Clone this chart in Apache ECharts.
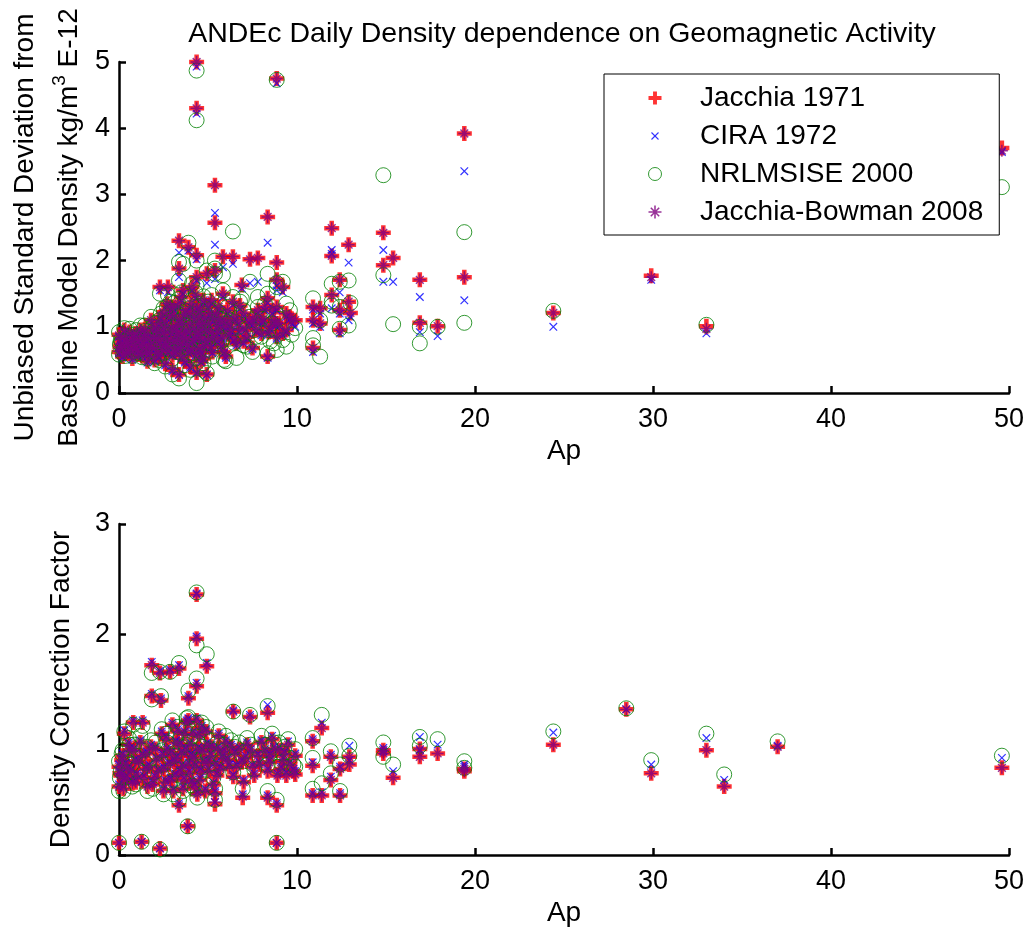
<!DOCTYPE html>
<html><head><meta charset="utf-8">
<script src="https://cdn.jsdelivr.net/npm/echarts@6/dist/echarts.min.js"></script>
<style>html,body{margin:0;padding:0;background:#fff}#c{width:1030px;height:932px}</style>
</head><body><div id="c"></div>
<script>
const titleText = 'ANDEc Daily Density dependence on Geomagnetic Activity';
const seriesNames = ['Jacchia 1971', 'CIRA 1972', 'NRLMSISE 2000', 'Jacchia-Bowman 2008'];
const xTicks = [0, 10, 20, 30, 40, 50];
const topYTicks = [0, 1, 2, 3, 4, 5];
const botYTicks = [0, 1, 2, 3];

// ---- top panel: unbiased standard deviation (kg/m^3 E-12) ----
const topAp = [0.0,0.0,0.1,0.2,0.25,0.3,0.4,0.5,0.5,0.6,0.75,0.8,0.9,1.0,1.1,1.2,1.25,1.4,1.5,1.5,1.6,1.75,1.8,1.9,2.0,2.0,2.1,2.2,2.25,2.25,2.3,2.4,2.5,2.5,2.6,2.6,2.6,2.75,2.75,2.9,2.9,3.0,3.0,3.0,3.1,3.1,3.2,3.25,3.3,3.37,3.37,3.37,3.4,3.5,3.5,3.5,3.6,3.6,3.7,3.75,3.75,3.8,3.9,3.9,4.0,4.0,4.0,4.1,4.1,4.2,4.25,4.3,4.36,4.36,4.36,4.36,4.36,4.4,4.5,4.5,4.5,4.6,4.6,4.7,4.75,4.75,4.8,4.93,4.93,5.0,5.0,5.1,5.2,5.25,5.3,5.39,5.39,5.39,5.5,5.5,5.6,5.7,5.75,5.84,5.84,5.9,6.0,6.0,6.1,6.2,6.3,6.4,6.4,6.5,6.6,6.75,6.8,6.9,7.0,7.1,7.2,7.36,7.5,7.5,7.6,7.8,7.8,8.0,8.1,8.2,8.35,8.35,8.35,8.5,8.6,8.7,8.86,8.86,8.86,8.86,8.86,9.0,9.2,9.4,9.4,9.7,9.9,10.9,10.9,10.9,11.3,11.3,11.95,11.95,11.95,12.4,12.4,12.4,12.9,12.9,13.0,14.85,14.85,15.4,16.9,16.9,17.9,19.4,19.4,24.4,29.9,33.0,49.6,
  0.05,0.15,0.35,0.45,0.65,0.7,0.85,0.95,1.05,1.15,1.3,1.35,1.45,1.55,1.65,1.7,1.85,1.95,2.05,2.15,2.3,2.35,2.45,2.55,2.65,2.7,2.8,2.85,2.95,3.05,3.15,3.2,3.3,3.35,3.45,3.55,3.65,3.7,3.85,3.95,4.05,4.15,4.2,4.3,4.4,4.45,4.55,4.65,4.7,4.85,4.9,5.05,5.15,5.2,5.3,5.45,5.55,5.65,5.8,5.95,6.25,6.45,6.7,7.0,7.3,7.7,8.0,8.4,8.8,9.2,9.6];
const topJ71 = [0.88,0.62,0.75,0.55,0.68,0.95,0.82,0.60,0.72,0.92,0.52,0.85,0.66,0.78,0.58,0.95,0.70,0.85,0.62,0.88,0.48,0.74,1.10,0.95,0.66,0.50,0.82,0.92,1.05,0.55,1.60,0.72,0.90,1.22,0.44,1.08,0.75,0.62,1.60,0.80,1.30,1.00,0.35,0.58,1.30,0.78,0.68,0.88,1.02,2.30,1.88,0.28,1.12,0.55,1.45,0.90,0.75,1.55,0.48,0.95,1.25,0.82,2.20,0.62,1.05,0.40,1.22,1.60,0.65,0.98,0.82,1.48,5.00,4.30,2.08,1.75,0.31,1.30,0.68,1.15,0.85,0.95,0.48,1.05,0.52,1.40,0.72,0.28,1.80,0.80,1.32,1.20,0.92,0.62,1.12,3.14,2.57,1.85,1.00,0.80,1.30,1.05,0.72,2.06,1.50,0.62,1.10,0.55,1.25,0.88,0.95,2.06,1.38,1.15,0.75,0.95,1.32,1.63,1.20,0.98,0.85,2.02,1.05,0.68,1.15,2.04,1.25,0.90,1.12,1.30,2.66,1.43,0.55,1.00,1.25,1.10,4.75,1.97,1.71,1.30,0.85,1.05,1.60,0.95,1.20,1.08,1.10,1.30,1.10,0.68,1.28,1.05,2.49,2.07,1.48,1.71,1.25,0.95,2.24,1.38,1.21,2.42,1.93,2.04,1.71,1.06,1.01,3.92,1.75,1.21,1.77,1.01,3.70,
  0.70,0.82,0.60,0.76,0.66,0.80,0.72,0.90,0.64,0.80,0.58,0.75,0.96,0.70,0.82,0.60,0.68,0.84,1.00,0.60,0.78,1.15,0.64,0.98,0.84,1.35,0.70,1.15,0.92,1.18,0.62,0.95,0.80,1.35,0.68,1.05,0.85,1.18,0.72,0.92,1.35,0.78,1.15,0.58,0.90,1.05,1.25,0.62,0.82,1.15,0.95,1.05,0.70,1.40,0.85,1.20,0.92,1.12,0.85,1.00,1.05,0.82,1.08,0.78,1.10,0.95,1.08,0.92,1.05,0.90,1.15];
const topCIRA = [0.85,0.60,0.72,0.53,0.66,0.92,0.79,0.58,0.70,0.89,0.50,0.82,0.64,0.75,0.56,0.91,0.68,0.82,0.60,0.85,0.46,0.72,1.06,0.92,0.64,0.48,0.80,0.89,1.01,0.53,1.55,0.70,0.87,1.18,0.42,1.04,0.72,0.60,1.52,0.77,1.26,0.97,0.33,0.56,1.25,0.75,0.66,0.85,0.98,2.12,1.75,0.27,1.08,0.53,1.40,0.87,0.72,1.50,0.46,0.92,1.21,0.79,2.15,0.60,1.01,0.38,1.18,1.55,0.63,0.95,0.79,1.43,4.93,4.22,2.02,1.70,0.30,1.26,0.66,1.11,0.82,0.92,0.46,1.01,0.50,1.36,0.70,0.27,1.66,0.77,1.28,1.16,0.89,0.60,1.08,2.72,2.24,1.72,0.97,0.77,1.26,1.01,0.70,1.90,1.45,0.60,1.06,0.53,1.20,0.85,0.92,1.95,1.33,1.11,0.72,0.92,1.27,1.58,1.16,0.95,0.82,1.66,1.02,0.66,1.10,1.68,1.21,0.87,1.08,1.25,2.27,1.36,0.53,0.96,1.20,1.06,4.68,1.62,1.55,1.25,0.82,1.01,1.52,0.92,1.15,1.04,1.00,1.26,1.05,0.62,1.20,1.00,2.16,2.10,1.28,1.52,1.20,0.90,1.97,1.10,1.15,2.16,1.68,1.68,1.45,0.92,0.86,3.35,1.40,1.00,1.71,0.90,3.64,
  0.68,0.79,0.58,0.73,0.64,0.77,0.70,0.87,0.62,0.77,0.56,0.72,0.93,0.68,0.79,0.58,0.66,0.81,0.97,0.58,0.75,1.11,0.62,0.95,0.81,1.31,0.68,1.11,0.89,1.14,0.60,0.92,0.77,1.30,0.66,1.01,0.82,1.14,0.70,0.89,1.30,0.75,1.11,0.56,0.87,1.01,1.21,0.60,0.79,1.11,0.92,1.01,0.68,1.35,0.82,1.16,0.89,1.08,0.82,0.97,1.01,0.79,1.04,0.75,1.06,0.92,1.04,0.89,1.01,0.87,1.11];
const topNRL = [0.92,0.58,0.80,0.60,0.65,0.98,0.86,0.66,0.68,0.97,0.56,0.88,0.62,0.83,0.64,1.02,0.74,0.90,0.58,0.94,0.52,0.80,1.15,1.00,0.70,0.45,0.78,0.96,1.10,0.50,1.50,0.76,0.95,1.28,0.40,1.14,0.70,0.66,1.48,0.85,1.38,1.06,0.28,0.52,1.36,0.82,0.62,0.93,1.08,1.98,1.70,0.22,1.18,0.60,1.52,0.94,0.70,1.95,0.42,1.02,1.20,0.86,2.27,0.58,1.10,0.35,1.28,1.65,0.60,1.04,0.88,1.52,4.87,4.12,2.00,1.62,0.15,1.35,0.64,1.08,0.80,1.00,0.40,1.12,0.45,1.46,0.76,0.30,1.85,0.85,1.38,1.25,0.98,0.55,1.05,2.00,1.88,1.80,1.05,0.72,1.22,1.12,0.78,1.78,1.55,0.50,1.15,0.48,1.30,0.82,0.98,2.44,1.45,1.08,0.53,1.00,1.38,1.42,1.25,0.88,0.70,1.68,1.10,0.62,0.95,1.45,1.30,0.85,1.05,1.35,1.80,1.50,0.60,0.78,1.05,0.75,4.73,1.60,1.66,1.20,0.65,1.12,1.68,0.70,1.35,0.88,0.98,1.43,0.83,0.72,0.55,1.10,1.65,1.32,1.38,1.68,1.30,0.97,1.70,1.02,1.36,3.29,1.78,1.04,0.75,1.00,1.00,2.43,1.06,1.24,null,1.03,3.11,
  0.74,0.78,0.56,0.80,0.70,0.84,0.66,0.95,0.60,0.85,0.54,0.79,1.02,0.74,0.78,0.64,0.62,0.89,1.06,0.55,0.82,1.20,0.60,1.04,0.88,1.30,0.74,1.22,0.86,1.24,0.66,1.00,0.75,1.42,0.72,1.10,0.90,1.24,0.68,0.98,1.40,0.82,1.20,0.52,0.95,1.00,1.32,0.56,0.88,1.20,0.90,1.10,0.64,1.48,0.90,1.25,0.86,1.18,0.80,1.05,1.10,0.76,1.14,0.72,1.15,0.85,1.12,0.95,0.95,0.80,1.25];
const topJB08 = [0.87,0.63,0.74,0.56,0.69,0.95,0.81,0.61,0.73,0.91,0.53,0.85,0.67,0.78,0.59,0.95,0.71,0.85,0.62,0.88,0.49,0.74,1.10,0.95,0.67,0.50,0.82,0.92,1.05,0.56,1.60,0.72,0.90,1.22,0.45,1.08,0.75,0.63,1.60,0.80,1.30,1.00,0.36,0.58,1.30,0.78,0.68,0.88,1.02,2.30,1.88,0.28,1.12,0.56,1.45,0.90,0.75,1.55,0.48,0.95,1.25,0.82,2.20,0.62,1.05,0.41,1.22,1.60,0.66,0.98,0.82,1.48,5.00,4.30,2.08,1.75,0.31,1.30,0.68,1.15,0.85,0.95,0.48,1.05,0.53,1.40,0.72,0.28,1.80,0.80,1.32,1.20,0.92,0.62,1.12,3.14,2.57,1.85,1.00,0.80,1.30,1.05,0.72,2.06,1.50,0.62,1.10,0.56,1.25,0.88,0.95,2.06,1.38,1.15,0.75,0.95,1.32,1.63,1.20,0.98,0.85,2.02,1.05,0.68,1.15,2.04,1.25,0.90,1.12,1.30,2.66,1.43,0.55,1.00,1.25,1.10,4.75,1.97,1.71,1.30,0.85,1.05,1.60,0.95,1.20,1.08,1.10,1.30,1.10,0.68,1.28,1.05,2.49,2.07,1.48,1.71,1.25,0.95,2.24,1.38,1.21,2.42,1.93,2.04,1.71,1.06,1.01,3.92,1.75,1.21,1.75,0.97,3.66,
  0.70,0.82,0.60,0.76,0.66,0.80,0.72,0.90,0.64,0.80,0.58,0.75,0.96,0.70,0.82,0.60,0.68,0.84,1.00,0.60,0.78,1.15,0.64,0.98,0.84,1.35,0.70,1.15,0.92,1.18,0.62,0.95,0.80,1.35,0.68,1.05,0.85,1.18,0.72,0.92,1.35,0.78,1.15,0.58,0.90,1.05,1.25,0.62,0.82,1.15,0.95,1.05,0.70,1.40,0.85,1.20,0.92,1.12,0.85,1.00,1.05,0.82,1.08,0.78,1.10,0.95,1.08,0.92,1.05,0.90,1.15];

// ---- bottom panel: density correction factor ----
const botAp = [0.0,0.0,0.0,0.1,0.2,0.3,0.3,0.5,0.6,0.75,0.8,0.9,1.0,1.27,1.33,1.3,1.5,1.6,1.84,1.84,1.8,2.0,2.1,2.3,2.3,2.36,2.4,2.5,2.5,2.7,2.87,2.9,3.0,3.1,3.2,3.37,3.37,3.4,3.5,3.6,3.7,3.86,3.9,3.9,3.9,4.0,4.1,4.2,4.36,4.36,4.36,4.36,4.4,4.5,4.6,4.7,4.93,4.9,5.0,5.2,5.39,5.4,5.5,5.6,5.8,6.0,6.2,6.42,6.42,6.5,6.9,6.95,7.0,7.36,7.2,7.5,7.8,8.0,8.35,8.35,8.35,8.5,8.6,8.86,8.86,8.9,9.0,9.2,9.4,9.5,9.9,9.9,10.88,10.88,10.88,11.39,11.39,11.9,11.9,12.42,12.42,12.94,12.94,14.85,14.85,15.4,16.9,16.9,17.9,19.4,19.4,24.4,28.5,29.9,33.0,34.0,37.0,49.6,
  0.05,0.15,0.25,0.4,0.45,0.55,0.7,0.85,0.95,1.1,1.2,1.4,1.55,1.7,1.9,2.05,2.2,2.45,2.6,2.65,2.8,2.95,3.05,3.15,3.25,3.3,3.45,3.55,3.65,3.75,3.8,3.95,4.05,4.15,4.25,4.3,4.45,4.55,4.65,4.75,4.85,4.95,5.05,5.15,5.3,5.45,5.55,5.7,5.9,6.1,6.3,6.6,6.75,7.1,7.4,7.6,7.9,8.2,8.45,8.7,9.1,9.3,9.6,9.8];
const botJ71 = [0.11,0.80,0.62,0.72,0.90,1.10,0.68,0.78,0.95,0.65,1.20,0.85,0.72,0.12,1.20,0.90,0.78,0.62,1.72,1.44,0.98,0.70,0.86,0.06,1.65,1.40,1.10,0.58,0.78,0.95,1.66,0.68,1.18,0.85,1.02,1.69,0.45,0.75,0.92,0.60,1.10,0.26,1.42,1.22,0.82,1.00,0.66,0.88,2.36,1.96,1.53,1.22,0.55,1.08,0.76,0.94,1.71,1.12,0.84,0.98,0.46,0.56,0.72,1.08,0.88,1.02,0.80,1.30,0.71,0.92,0.84,0.52,0.66,1.25,1.00,0.80,0.90,1.02,1.29,0.76,0.52,0.90,1.05,0.45,0.11,0.72,0.95,0.85,0.72,1.00,0.73,0.90,1.03,0.81,0.54,1.15,0.54,0.89,0.68,0.78,0.54,0.89,0.82,0.95,0.92,0.70,0.96,0.89,0.92,0.76,0.78,1.00,1.32,0.74,0.95,0.62,0.98,0.79,
  0.74,0.86,0.60,0.82,0.70,1.00,0.76,0.95,0.66,0.84,1.02,0.70,0.92,0.80,0.64,0.96,0.76,0.90,0.66,1.05,0.82,0.92,0.58,0.72,0.88,1.12,1.00,0.80,0.68,0.95,1.20,0.74,0.90,1.10,0.62,0.80,0.96,0.68,1.15,0.84,0.58,1.00,0.76,0.90,0.64,0.82,0.96,0.78,0.94,0.86,0.98,0.80,0.96,0.88,0.94,0.72,0.82,0.94,0.84,0.96,0.78,0.92,0.82,0.76];
const botCIRA = [0.11,0.82,0.64,0.74,0.92,1.13,0.70,0.80,0.97,0.67,1.22,0.87,0.74,0.12,1.22,0.92,0.80,0.64,1.75,1.46,1.00,0.72,0.88,0.06,1.67,1.42,1.12,0.60,0.80,0.97,1.68,0.70,1.20,0.87,1.04,1.72,0.47,0.77,0.94,0.62,1.12,0.26,1.44,1.24,0.84,1.02,0.68,0.90,2.37,1.98,1.56,1.24,0.57,1.10,0.78,0.96,1.74,1.14,0.86,1.00,0.48,0.58,0.74,1.10,0.90,1.04,0.82,1.31,0.73,0.94,0.86,0.55,0.68,1.27,1.02,0.82,0.92,1.04,1.36,0.78,0.54,0.92,1.08,0.47,0.11,0.74,0.98,0.88,0.75,1.03,0.76,0.92,1.05,0.84,0.56,1.20,0.57,0.91,0.71,0.80,0.56,0.99,0.86,0.97,0.94,0.76,1.07,0.95,1.00,0.82,0.80,1.11,1.32,0.82,1.06,0.68,0.99,0.88,
  0.76,0.88,0.62,0.84,0.72,1.02,0.78,0.97,0.68,0.86,1.04,0.72,0.94,0.82,0.66,0.98,0.78,0.92,0.68,1.07,0.84,0.94,0.60,0.74,0.90,1.14,1.02,0.82,0.70,0.97,1.22,0.76,0.92,1.12,0.64,0.82,0.98,0.70,1.17,0.86,0.60,1.02,0.78,0.92,0.66,0.84,0.98,0.80,0.96,0.88,1.00,0.82,0.98,0.90,0.96,0.74,0.84,0.96,0.86,0.98,0.80,0.94,0.84,0.78];
const botNRL = [0.11,0.85,0.58,0.76,0.95,1.12,0.72,0.84,1.00,0.62,1.18,0.90,0.78,0.12,1.17,0.95,0.83,0.58,1.65,1.41,1.04,0.75,0.92,0.05,1.66,1.44,1.14,0.55,0.82,1.02,1.66,0.66,1.22,0.90,1.08,1.74,0.50,0.72,0.98,0.58,1.15,0.26,1.49,1.25,0.88,1.06,0.63,0.94,2.38,1.90,1.60,1.20,0.52,1.12,0.80,0.98,1.82,1.16,0.90,1.04,0.50,0.60,0.78,1.12,0.94,1.08,0.85,1.30,0.75,0.98,0.90,0.60,0.72,1.27,1.06,0.86,0.96,1.08,1.35,0.82,0.58,0.98,1.10,0.50,0.11,0.80,1.02,0.92,0.80,1.05,0.80,0.96,1.06,0.88,0.60,1.27,0.65,0.94,0.74,0.82,0.58,0.99,0.90,1.02,0.89,0.82,1.07,0.99,1.05,0.85,0.79,1.12,1.33,0.86,1.10,0.73,1.03,0.90,
  0.70,0.92,0.58,0.88,0.75,1.06,0.82,1.00,0.64,0.90,1.08,0.75,0.98,0.86,0.60,1.02,0.82,0.95,0.72,1.10,0.88,0.98,0.55,0.78,0.94,1.16,1.05,0.86,0.66,1.00,1.24,0.80,0.96,1.14,0.60,0.86,1.02,0.74,1.20,0.90,0.64,1.06,0.82,0.96,0.70,0.88,1.02,0.84,1.00,0.92,1.04,0.86,1.02,0.94,1.00,0.78,0.88,1.00,0.90,1.02,0.84,0.98,0.88,0.82];
const botJB08 = [0.11,0.80,0.62,0.72,0.90,1.10,0.68,0.78,0.95,0.65,1.20,0.85,0.72,0.12,1.20,0.90,0.78,0.62,1.72,1.44,0.98,0.70,0.86,0.06,1.65,1.40,1.10,0.58,0.78,0.95,1.66,0.68,1.18,0.85,1.02,1.69,0.45,0.75,0.92,0.60,1.10,0.26,1.42,1.22,0.82,1.00,0.66,0.88,2.36,1.96,1.53,1.22,0.55,1.08,0.76,0.94,1.71,1.12,0.84,0.98,0.48,0.56,0.72,1.08,0.88,1.02,0.80,1.30,0.71,0.92,0.84,0.53,0.66,1.25,1.00,0.80,0.90,1.02,1.29,0.76,0.52,0.90,1.05,0.45,0.11,0.72,0.95,0.85,0.72,1.00,0.73,0.90,1.03,0.81,0.54,1.15,0.54,0.89,0.68,0.78,0.54,0.89,0.82,0.95,0.92,0.70,0.96,0.89,0.92,0.76,0.78,1.00,1.32,0.74,0.95,0.62,0.98,0.79,
  0.74,0.86,0.60,0.82,0.70,1.00,0.76,0.95,0.66,0.84,1.02,0.70,0.92,0.80,0.64,0.96,0.76,0.90,0.66,1.05,0.82,0.92,0.58,0.72,0.88,1.12,1.00,0.80,0.68,0.95,1.20,0.74,0.90,1.10,0.62,0.80,0.96,0.68,1.15,0.84,0.58,1.00,0.76,0.90,0.64,0.82,0.96,0.78,0.94,0.86,0.98,0.80,0.96,0.88,0.94,0.72,0.82,0.94,0.84,0.96,0.78,0.92,0.82,0.76];

const FONT = '"Liberation Sans", Arial, Helvetica, sans-serif';
const PLUS = 'path://M35,0L65,0L65,35L100,35L100,65L65,65L65,100L35,100L35,65L0,65L0,35L35,35Z';
const CROSS = 'path://M0,0L0,0ZM100,100L100,100ZM20,26L26,20L80,74L74,80ZM74,20L80,26L26,80L20,74Z';
const ASTER = 'path://M44,0L56,0L56,44L100,44L100,56L56,56L56,100L44,100L44,56L0,56L0,44L44,44Z' +
  'M21.9,13.5L86.5,78.1L78.1,86.5L13.5,21.9ZM78.1,13.5L86.5,21.9L21.9,86.5L13.5,78.1Z';

const markerStyles = [
  { symbol: PLUS, symbolSize: 15, itemStyle: { color: '#ff0000' } },
  { symbol: CROSS, symbolSize: 14, itemStyle: { color: '#0000ff' } },
  { symbol: 'circle', symbolSize: 15, itemStyle: { color: 'rgba(255,255,255,0)', borderColor: '#008000', borderWidth: 1 } },
  { symbol: ASTER, symbolSize: 12, itemStyle: { color: '#800080' } }
];

function pts(xs, ys) {
  const out = [];
  for (let i = 0; i < xs.length; i++) if (ys[i] !== null) out.push([xs[i], ys[i]]);
  return out;
}

const series = [];
[[topAp, [topJ71, topCIRA, topNRL, topJB08]], [botAp, [botJ71, botCIRA, botNRL, botJB08]]].forEach(function (panel, g) {
  panel[1].forEach(function (ys, k) {
    series.push(Object.assign({
      type: 'scatter', name: seriesNames[k], xAxisIndex: g, yAxisIndex: g,
      data: pts(panel[0], ys), silent: true, animation: false, clip: false
    }, markerStyles[k]));
  });
});

function xAxisOf(g) {
  return {
    type: 'value', gridIndex: g, min: xTicks[0], max: xTicks[xTicks.length - 1], interval: xTicks[1] - xTicks[0],
    name: 'Ap', nameLocation: 'middle', nameGap: 44,
    nameTextStyle: { fontSize: 28, color: '#000', fontFamily: FONT },
    axisLine: { show: true, onZero: false, lineStyle: { color: '#000', width: 2.5 } },
    axisTick: { show: true, inside: true, length: 7, lineStyle: { color: '#000', width: 2.5 } },
    axisLabel: { fontSize: 27, color: '#000', margin: 13, fontFamily: FONT },
    splitLine: { show: false }
  };
}
function yAxisOf(g, ticks, name) {
  return {
    type: 'value', gridIndex: g, min: ticks[0], max: ticks[ticks.length - 1], interval: ticks[1] - ticks[0],
    name: name, nameLocation: 'middle', nameGap: 36, nameRotate: 90,
    nameTextStyle: {
      fontSize: 28, color: '#000', fontFamily: FONT, lineHeight: 44,
      rich: {
        a: { fontSize: 28, color: '#000', fontFamily: FONT, lineHeight: 44, verticalAlign: 'bottom' },
        s: { fontSize: 19, color: '#000', fontFamily: FONT, lineHeight: 44, verticalAlign: 'bottom', padding: [0, 0, 14, 0] }
      }
    },
    axisLine: { show: true, onZero: false, lineStyle: { color: '#000', width: 2.5 } },
    axisTick: { show: true, inside: true, length: 7, lineStyle: { color: '#000', width: 2.5 } },
    axisLabel: { fontSize: 27, color: '#000', margin: 9, fontFamily: FONT },
    splitLine: { show: false }
  };
}

const chart = echarts.init(document.getElementById('c'), null, { renderer: 'canvas' });
chart.setOption({
  backgroundColor: '#ffffff',
  animation: false,
  title: {
    text: titleText, left: 557, top: 15, textAlign: 'center',
    textStyle: { fontSize: 28.5, fontWeight: 'normal', color: '#000', fontFamily: FONT }
  },
  legend: {
    data: [
      { name: seriesNames[0] },
      { name: seriesNames[1] },
      { name: seriesNames[2], itemStyle: { borderWidth: 1, borderColor: '#008000' } },
      { name: seriesNames[3] }
    ],
    orient: 'vertical', left: 604, top: 74,
    itemWidth: 80, itemHeight: 13, itemGap: 10,
    padding: [10, 16, 9, 44],
    borderColor: '#000', borderWidth: 1, backgroundColor: '#fff',
    selectedMode: false,
    textStyle: { fontSize: 28, color: '#000', fontFamily: FONT, lineHeight: 26 }
  },
  grid: [
    { left: 119, top: 62, width: 890, height: 331, outerBoundsMode: 'none', containLabel: false },
    { left: 119, top: 524, width: 890, height: 331, outerBoundsMode: 'none', containLabel: false }
  ],
  xAxis: [xAxisOf(0), xAxisOf(1)],
  yAxis: [
    yAxisOf(0, topYTicks, '{a|Unbiased Standard Deviation from}\n{a|Baseline Model Density kg/m}{s|3}{a| E-12}'),
    yAxisOf(1, botYTicks, 'Density Correction Factor')
  ],
  series: series
});
</script>
</body></html>
